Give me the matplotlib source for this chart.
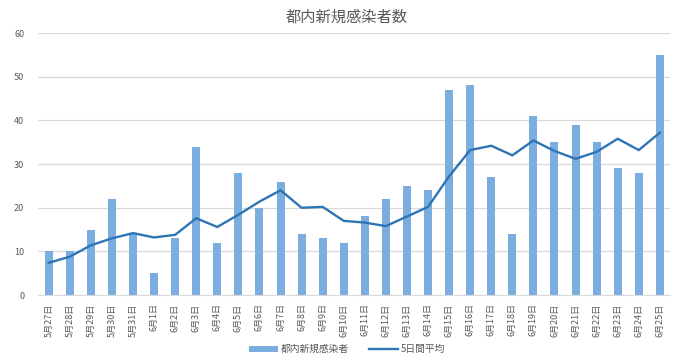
import matplotlib
matplotlib.use("Agg")
import matplotlib.pyplot as plt
import numpy as np

plt.rcParams['font.family'] = ['Noto Sans CJK JP', 'DejaVu Sans']

dates = ["5月27日", "5月28日", "5月29日", "5月30日", "5月31日",
         "6月1日", "6月2日", "6月3日", "6月4日", "6月5日", "6月6日", "6月7日",
         "6月8日", "6月9日", "6月10日", "6月11日", "6月12日", "6月13日", "6月14日",
         "6月15日", "6月16日", "6月17日", "6月18日", "6月19日", "6月20日", "6月21日",
         "6月22日", "6月23日", "6月24日", "6月25日"]
new_cases = [10, 10, 15, 22, 14, 5, 13, 34, 12, 28, 20, 26, 14, 13, 12, 18, 22, 25, 24,
             47, 48, 27, 14, 41, 35, 39, 35, 29, 28, 55]
avg5 = [7.4, 8.8, 11.4, 13.0, 14.2, 13.2, 13.8, 17.6, 15.6, 18.4, 21.4, 24.0, 20.0, 20.2,
        17.0, 16.6, 15.8, 18.0, 20.2, 27.2, 33.2, 34.2, 32.0, 35.4, 33.0, 31.2, 32.8,
        35.8, 33.2, 37.2]
title = "都内新規感染者数"
bar_label = "都内新規感染者"
line_label = "5日間平均"

text_color = "#595959"
fig = plt.figure(figsize=(6.94, 3.63), dpi=100)
ax = fig.add_axes([0.055, 0.187, 0.911, 0.722])
x = np.arange(len(dates))
bars = ax.bar(x, new_cases, width=0.38, color="#7BAEDE", label=bar_label, zorder=2)
line, = ax.plot(x, avg5, color="#2E75B6", linewidth=1.7, label=line_label, zorder=3)

ax.set_xlim(-0.5, len(dates) - 0.5)
ax.set_ylim(0, 60)
ax.set_yticks(range(0, 61, 10))
ax.set_xticks(x)
ax.set_xticklabels(dates, rotation=90, fontsize=6.5, color=text_color)
ax.tick_params(axis='y', labelsize=6.5, labelcolor=text_color, length=0, pad=10)
ax.tick_params(axis='x', length=0, pad=6)
ax.grid(axis='y', color="#D9D9D9", linewidth=0.9, zorder=0)
for s in ['top', 'right', 'left']:
    ax.spines[s].set_visible(False)
ax.spines['bottom'].set_color("#D9D9D9")
ax.set_axisbelow(True)

fig.suptitle(title, y=0.975, fontsize=11, color=text_color)
fig.legend([bars, line], [bar_label, line_label], loc='lower center',
           bbox_to_anchor=(0.5, 0.0), ncol=2, frameon=False,
           fontsize=7, labelcolor=text_color, handlelength=3.0, handleheight=0.5,
           handletextpad=0.3, columnspacing=2.0)

fig.savefig("out.png", dpi=100)
